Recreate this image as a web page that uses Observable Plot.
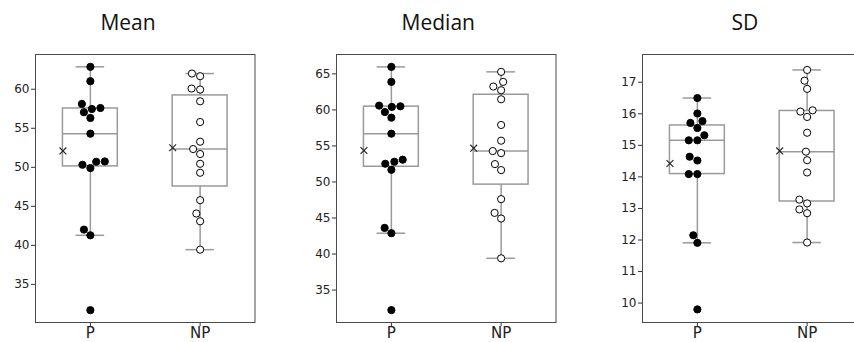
<!DOCTYPE html>
<html><head><meta charset="utf-8">
<script src="https://cdn.jsdelivr.net/npm/d3@7"></script>
<script src="https://cdn.jsdelivr.net/npm/@observablehq/plot@0.6"></script>
<style>
body{margin:0;background:#fff;overflow:hidden;}
#wrap{position:relative;width:854px;height:342px;overflow:hidden;background:#fff;}
.panel{position:absolute;top:44px;}
.panel svg{max-width:none !important;}
#titles{position:absolute;left:0;top:0;pointer-events:none;}
</style></head><body>
<div id="wrap">
<svg id="titles" width="854" height="342"></svg>
</div>
<script>
const groups = ["P", "NP"];
const titles = ["Mean", "Median", "SD"];

const meanP   = [62.87, 61.03, 58.12, 57.60, 57.47, 57.05, 56.32, 54.31, 50.75, 50.71, 50.33, 49.90, 42.02, 41.29, 31.70];
const meanNP  = [62.01, 61.67, 60.09, 59.96, 58.46, 55.80, 53.28, 52.34, 51.70, 50.45, 49.30, 45.79, 44.08, 43.09, 39.45];
const medianP = [65.97, 63.89, 60.60, 60.50, 60.41, 59.71, 58.93, 56.70, 53.09, 52.81, 52.53, 51.69, 43.63, 42.89, 32.22];
const medianNP= [65.28, 63.89, 63.24, 62.73, 61.48, 57.91, 55.73, 54.29, 54.01, 52.48, 51.65, 47.62, 45.71, 44.93, 39.41];
const sdP     = [16.50, 16.01, 15.77, 15.71, 15.55, 15.32, 15.16, 15.16, 14.64, 14.52, 14.09, 14.09, 12.15, 11.91, 9.80];
const sdNP    = [17.39, 17.05, 16.79, 16.11, 16.07, 15.90, 15.40, 14.80, 14.53, 14.14, 13.28, 13.16, 12.97, 12.85, 11.92];

const ticksMean   = [35, 40, 45, 50, 55, 60];
const ticksMedian = [35, 40, 45, 50, 55, 60, 65];
const ticksSD     = [10, 11, 12, 13, 14, 15, 16, 17];

const panels = [
  {title: titles[0], data: {P: meanP, NP: meanNP}, domain: [30.12, 64.45], ticks: ticksMean, left: 34.7, tx: 128},
  {title: titles[1], data: {P: medianP, NP: medianNP}, domain: [30.50, 67.69], ticks: ticksMedian, left: 335.7, tx: 438.3},
  {title: titles[2], data: {P: sdP, NP: sdNP}, domain: [9.385, 17.88], ticks: ticksSD, left: 641.7, tx: 745}
];

const W = 219.5, H = 268, mL = 36, mR = 2, mT = 10, mB = 26;
const D = 8.6; // swarm spacing in px
const boxColor = "#9a9a9a";

function swarm(values, yPx) {
  const idx = values.map((v, i) => i).sort((a, b) => values[a] - values[b]);
  const placed = [];
  const off = new Array(values.length);
  for (const i of idx) {
    const y = yPx(values[i]);
    const neigh = placed.filter(p => Math.abs(p.y - y) < D);
    const lefts = [], rights = [];
    for (const p of neigh) {
      const dx = Math.sqrt(D * D - (p.y - y) ** 2);
      lefts.push(p.x - dx); rights.push(p.x + dx);
    }
    const cands = [0, ...lefts, ...rights].sort((a, b) => Math.abs(a) - Math.abs(b));
    let x = 0;
    for (const c of cands) {
      if (neigh.every(p => (p.x - c) ** 2 + (p.y - y) ** 2 >= D * D - 1e-6)) { x = c; break; }
    }
    off[i] = x;
    placed.push({x, y});
  }
  return off;
}

const wrap = document.getElementById("wrap");
const tsvg = d3.select("#titles");

panels.forEach(p => {
  const dom = p.domain;
  const yPx = v => H * (1 - (v - dom[0]) / (dom[1] - dom[0]));
  const unitPx = W / 2;
  const pts = [];
  groups.forEach((g, gi) => {
    const vals = p.data[g];
    const off = swarm(vals, yPx);
    vals.forEach((v, k) => pts.push({g, gi, v, x: gi + off[k] / unitPx}));
  });
  const stats = groups.map((g, gi) => {
    const vals = d3.sort(p.data[g]);
    const q1 = d3.quantileSorted(vals, 0.25), q2 = d3.quantileSorted(vals, 0.5), q3 = d3.quantileSorted(vals, 0.75);
    const iqr = q3 - q1;
    const lo = d3.min(vals.filter(v => v >= q1 - 1.5 * iqr));
    const hi = d3.max(vals.filter(v => v <= q3 + 1.5 * iqr));
    return {g, gi, q1, q2, q3, lo, hi, mean: d3.mean(vals)};
  });
  const line = {stroke: boxColor, strokeWidth: 1.5};
  const totalW = mL + W + mR;
  const chart = Plot.plot({
    width: totalW,
    height: mT + H + mB,
    marginLeft: mL, marginRight: mR, marginTop: mT, marginBottom: mB,
    style: {fontFamily: "DejaVu Sans", fontSize: "12px", color: "#333", background: "transparent", overflow: "visible", maxWidth: "none"},
    x: {domain: [-0.5, 1.5], ticks: [0, 1], tickFormat: d => groups[d], tickSize: 4, tickPadding: 1, label: null},
    y: {domain: dom, ticks: p.ticks, tickSize: 4, tickPadding: 2, label: null},
    marks: [
      Plot.ruleX(stats, {x: "gi", y1: "lo", y2: "q1", ...line}),
      Plot.ruleX(stats, {x: "gi", y1: "q3", y2: "hi", ...line}),
      Plot.ruleY(stats, {y: "lo", x1: d => d.gi - 0.13, x2: d => d.gi + 0.13, ...line}),
      Plot.ruleY(stats, {y: "hi", x1: d => d.gi - 0.13, x2: d => d.gi + 0.13, ...line}),
      Plot.rect(stats, {x1: d => d.gi - 0.25, x2: d => d.gi + 0.25, y1: "q1", y2: "q3", fill: "none", ...line}),
      Plot.ruleY(stats, {y: "q2", x1: d => d.gi - 0.25, x2: d => d.gi + 0.25, ...line}),
      Plot.dot(pts.filter(d => d.g === "P"), {x: "x", y: "v", r: 3.6, fill: "black", stroke: "black", strokeWidth: 1}),
      Plot.dot(pts.filter(d => d.g === "NP"), {x: "x", y: "v", r: 3.6, fill: "white", stroke: "black", strokeWidth: 1}),
      Plot.dot(stats, {x: d => d.gi - 0.25, y: "mean", symbol: "times", r: 3.2, stroke: "#222", strokeWidth: 1.1}),
      Plot.frame({stroke: "#4a4a4a", strokeWidth: 1})
    ]
  });
  chart.style.maxWidth = "none";
  chart.setAttribute("width", totalW);
  chart.querySelectorAll('[aria-label^="x-axis"] text').forEach(t => { t.style.fontSize = "15px"; t.setAttribute("fill", "#222"); });
  chart.querySelectorAll('[aria-label^="y-axis"] text').forEach(t => { t.setAttribute("fill", "#222"); });
  const div = document.createElement("div");
  div.className = "panel";
  div.style.left = (p.left - mL) + "px";
  div.style.width = totalW + "px";
  div.appendChild(chart);
  wrap.insertBefore(div, document.getElementById("titles"));
  tsvg.append("text")
    .attr("x", p.tx).attr("y", 30)
    .attr("text-anchor", "middle")
    .attr("font-family", "'Open Sans', sans-serif")
    .attr("font-size", 21)
    .attr("fill", "#111")
    .text(p.title);
});
</script>
</body></html>
